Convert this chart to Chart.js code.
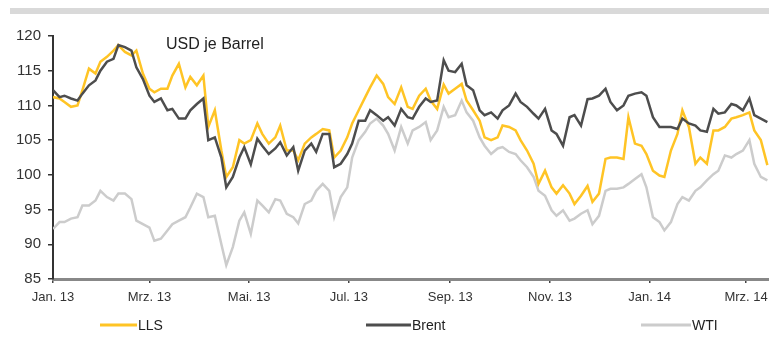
<!DOCTYPE html>
<html>
<head>
<meta charset="utf-8">
<script src="https://cdn.jsdelivr.net/npm/chart.js@4.4.0/dist/chart.umd.min.js"></script>
<style>
  html, body { margin: 0; padding: 0; background: #fff; }
  #wrap { width: 769px; height: 350px; }
</style>
</head>
<body>
<div id="wrap"><canvas id="oilChart" width="769" height="350"></canvas></div>
<script>
// days since 1 Jan 2013
const days = [
  0, 4, 7, 11, 15, 18, 22, 26, 29, 33,
  37, 40, 44, 48, 51, 55, 59, 62, 66, 70,
  73, 77, 81, 84, 88, 92, 95, 99, 103, 106,
  110, 114, 117, 121, 125, 128, 132, 136, 139, 143,
  147, 150, 154, 158, 161, 165, 169, 172, 176, 180,
  183, 187, 191, 194, 198, 202, 205, 209, 213, 217,
  220, 224, 228, 231, 235, 239, 242, 246, 250, 253,
  257, 261, 264, 268, 272, 275, 279, 283, 286, 290,
  294, 297, 301, 305, 308, 312, 316, 319, 323, 327,
  330, 334, 338, 341, 345, 349, 352, 356, 360, 363,
  367, 371, 374, 378, 382, 385, 389, 393, 396, 400,
  404, 407, 411, 415, 418, 422, 426, 429, 433, 437
];

const lls = [
  111.2, 111.0, 110.5, 109.8, 110.0, 112.2, 115.3, 114.6, 116.3, 117.0,
  117.9, 118.7, 117.7, 117.2, 117.9, 114.6, 112.4, 111.9, 112.4, 112.4,
  114.3, 116.0, 112.6, 114.1, 112.9, 114.3, 106.9, 109.3, 103.5, 99.7,
  101.1, 105.0, 104.5, 105.0, 107.4, 105.9, 104.5, 105.4, 107.1, 103.5,
  103.5, 102.1, 104.5, 105.4, 105.9, 106.6, 106.4, 102.5, 103.5, 105.4,
  107.4, 109.3, 111.2, 112.6, 114.3, 113.1, 111.2, 110.2, 112.6, 109.8,
  109.5, 111.4, 112.4, 110.7, 109.5, 113.0, 111.7, 112.4, 113.1, 110.7,
  109.3, 107.8, 105.4, 105.0, 105.4, 107.1, 106.9, 106.4, 105.0, 103.5,
  101.6, 98.7, 100.6, 98.2, 97.3, 98.5, 97.3, 95.8, 97.0, 98.4,
  96.1, 97.3, 102.3, 102.5, 102.5, 102.3, 108.3, 104.5, 104.2, 103.0,
  100.6, 99.9, 99.7, 103.5, 105.9, 109.3, 106.9, 101.6, 102.5, 101.6,
  106.4, 106.4, 106.9, 108.1, 108.3, 108.6, 109.0, 106.4, 105.0, 101.4
];

const brent = [
  112.2, 111.2, 111.4, 111.0, 110.7, 111.7, 112.9, 113.6, 115.0, 116.3,
  116.7, 118.7, 118.4, 117.9, 115.5, 113.8, 111.4, 110.5, 111.0, 109.3,
  109.5, 108.1, 108.1, 109.3, 110.2, 111.0, 105.0, 105.4, 102.5, 98.2,
  99.7, 102.5, 104.0, 101.5, 105.2, 104.2, 103.0, 103.8, 104.7, 102.8,
  104.0, 100.6, 103.5, 104.5, 103.3, 105.9, 105.9, 101.1, 101.6, 103.0,
  104.5, 107.8, 107.8, 109.3, 108.6, 107.8, 108.3, 107.1, 109.5, 108.3,
  108.1, 109.8, 111.0, 110.5, 110.7, 116.5, 115.0, 114.8, 116.0, 112.9,
  112.2, 109.3, 108.6, 109.0, 108.1, 109.3, 110.0, 111.7, 110.5, 109.8,
  108.8, 108.1, 109.5, 106.4, 105.9, 104.2, 108.3, 108.6, 107.1, 110.9,
  111.0, 111.4, 112.4, 110.5, 109.3, 110.0, 111.4, 111.7, 111.9, 111.4,
  108.3, 106.9, 106.9, 106.9, 106.6, 108.1, 107.4, 107.1, 106.4, 106.2,
  109.5, 108.8, 109.0, 110.2, 110.0, 109.3, 111.0, 108.6, 108.1, 107.6
];

const wti = [
  92.2, 93.2, 93.2, 93.7, 93.9, 95.6, 95.6, 96.3, 97.7, 96.8,
  96.3, 97.3, 97.3, 96.5, 93.4, 92.9, 92.4, 90.5, 90.8, 92.0,
  92.9, 93.4, 93.9, 95.3, 97.3, 96.8, 93.9, 94.1, 90.0, 87.0,
  89.6, 93.4, 94.6, 91.5, 96.3, 95.6, 94.6, 96.5, 96.3, 94.4,
  93.9, 93.0, 95.8, 96.3, 97.7, 98.7, 97.7, 93.9, 96.8, 98.2,
  102.5, 105.0, 106.2, 107.4, 108.1, 107.1, 105.9, 103.5, 106.9, 104.5,
  106.4, 106.9, 107.6, 105.0, 106.4, 109.8, 108.3, 108.6, 110.7, 109.0,
  107.8, 105.4, 104.2, 103.0, 103.8, 104.0, 103.3, 103.0, 102.1, 101.1,
  99.7, 97.7, 97.0, 94.9, 94.1, 94.9, 93.4, 93.7, 94.4, 94.9,
  92.9, 94.1, 97.7, 98.0, 98.0, 98.2, 98.7, 99.4, 100.1, 98.2,
  93.9, 93.2, 92.0, 93.2, 95.8, 96.8, 96.3, 97.7, 98.2, 99.2,
  100.1, 100.6, 102.8, 102.5, 103.0, 103.5, 105.0, 101.6, 99.7, 99.2
];

const tickDays = [0, 59, 120, 181, 243, 304, 365, 424];
const tickLabels = ['Jan. 13', 'Mrz. 13', 'Mai. 13', 'Jul. 13', 'Sep. 13', 'Nov. 13', 'Jan. 14', 'Mrz. 14'];
const seriesNames = ['LLS', 'Brent', 'WTI'];
const unitLabel = 'USD je Barrel';

const colors = ['#FFC425', '#4D4D4D', '#CCCCCC'];
const fontFamily = '"Liberation Sans", Arial, sans-serif';

function toPoints(values) {
    return values.map((v, i) => ({ x: days[i], y: v }));
}

//extra drawing: top band, unit text, legend
const extras = {
    id: 'extras',
    afterDraw(chart) {
        const ctx = chart.ctx;
        ctx.save();

        ctx.fillStyle = '#d9d9d9';
        ctx.fillRect(10, 8, 759, 6);

        ctx.fillStyle = '#222';
        ctx.font = '16px ' + fontFamily;
        ctx.textBaseline = 'middle';
        ctx.fillText(unitLabel, 166, 45);

        //legend
        const legendX = [100, 366, 641];
        const legendLen = [37, 45, 50];
        const legendY = 325;
        ctx.font = '14px ' + fontFamily;
        seriesNames.forEach((name, i) => {
            ctx.strokeStyle = colors[i];
            ctx.lineWidth = 3;
            ctx.beginPath();
            ctx.moveTo(legendX[i], legendY);
            ctx.lineTo(legendX[i] + legendLen[i], legendY);
            ctx.stroke();
            ctx.fillStyle = '#222';
            ctx.fillText(name, legendX[i] + legendLen[i] + 1, legendY + 1);
        });

        ctx.restore();
    }
};

const ctx = document.getElementById('oilChart');

new Chart(ctx, {
    type: 'line',
    data: {
        datasets: [
            { label: seriesNames[0], data: toPoints(lls), borderColor: colors[0], order: 2 },
            { label: seriesNames[1], data: toPoints(brent), borderColor: colors[1], order: 1 },
            { label: seriesNames[2], data: toPoints(wti), borderColor: colors[2], order: 3 }
        ]
    },
    options: {
        responsive: false,
        animation: false,
        events: [],
        elements: {
            point: { radius: 0 },
            line: { borderWidth: 2.5, tension: 0, fill: false }
        },
        layout: {
            padding: { top: 36, right: 0, bottom: 40, left: 0 }
        },
        plugins: {
            legend: { display: false },
            tooltip: { enabled: false }
        },
        scales: {
            x: {
                type: 'linear',
                min: 0,
                max: 438,
                afterBuildTicks: (scale) => {
                    scale.ticks = tickDays.map(v => ({ value: v }));
                },
                afterFit: (scale) => {
                    scale.height = 31;
                    scale.paddingLeft = 0;
                    scale.paddingRight = 0;
                },
                ticks: {
                    autoSkip: false,
                    maxRotation: 0,
                    padding: 7,
                    color: '#333',
                    font: { family: fontFamily, size: 13 },
                    callback: (value) => tickLabels[tickDays.indexOf(value)]
                },
                grid: {
                    drawOnChartArea: false,
                    drawTicks: true,
                    tickLength: 4,
                    color: '#444',
                    lineWidth: 1.5
                },
                border: { color: '#888', width: 3 }
            },
            y: {
                min: 85,
                max: 120,
                afterFit: (scale) => {
                    scale.width = 53;
                },
                ticks: {
                    stepSize: 5,
                    padding: 7,
                    color: '#333',
                    font: { family: fontFamily, size: 15 }
                },
                grid: {
                    drawOnChartArea: false,
                    drawTicks: true,
                    tickLength: 5,
                    color: '#333',
                    lineWidth: 1.5
                },
                border: { color: '#333', width: 2 }
            }
        }
    },
    plugins: [extras]
});
</script>
</body>
</html>
